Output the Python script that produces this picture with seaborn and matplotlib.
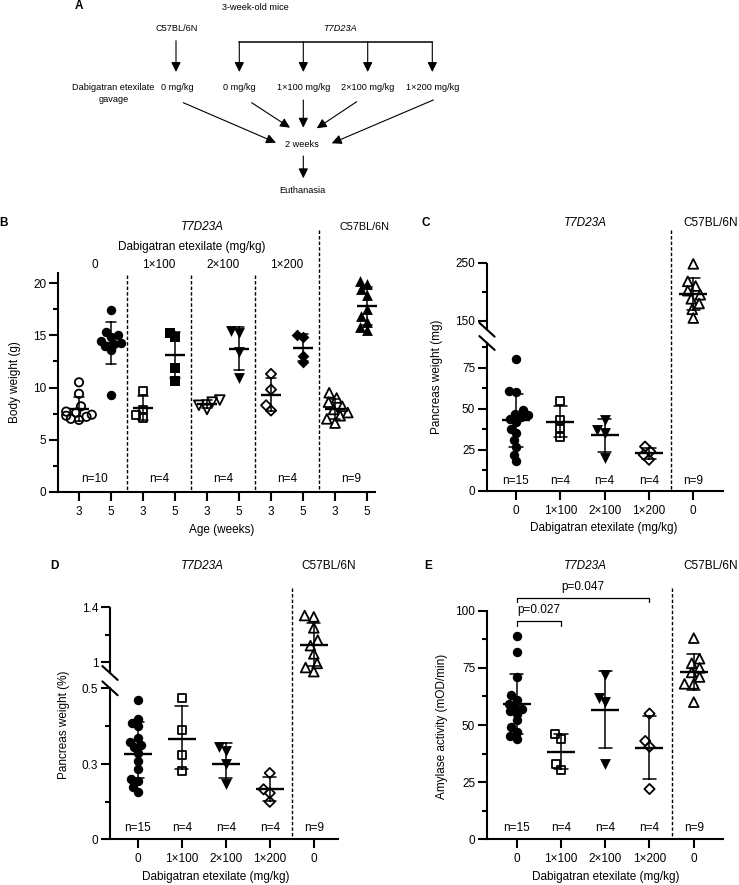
import matplotlib
matplotlib.use("Agg")
import matplotlib.pyplot as plt
import matplotlib.transforms as mtransforms
from matplotlib.lines import Line2D
from matplotlib.patches import FancyArrowPatch, Rectangle
import numpy as np
import seaborn as sns

# ---------------- data ----------------
doses = ["0", "1×100", "2×100", "1×200"]
strain_wt = "C57BL/6N"
strain_tg = "T7D23A"

# B: body weight (g), age 3 and 5 weeks
bw3_0 = [10.5, 9.4, 8.2, 7.6, 7.4, 7.2, 7.0, 7.3, 6.9, 7.7]
bw5_0 = [17.4, 15.3, 15.0, 14.8, 14.5, 14.3, 14.2, 14.0, 13.6, 9.3]
bw3_1x100 = [9.7, 7.9, 7.4, 7.1]
bw5_1x100 = [15.2, 14.8, 11.9, 10.6]
bw3_2x100 = [8.8, 8.6, 8.3, 7.9]
bw5_2x100 = [15.4, 15.2, 13.4, 10.9]
bw3_1x200 = [11.3, 9.8, 8.3, 7.8]
bw5_1x200 = [15.0, 14.8, 13.0, 12.4]
bw3_wt = [9.5, 9.0, 8.6, 8.2, 7.9, 7.6, 7.3, 7.0, 6.6]
bw5_wt = [20.2, 19.9, 19.4, 18.9, 17.5, 16.8, 16.3, 15.8, 15.5]
ages = ["3", "5"]

# C: pancreas weight (mg)
pw_0 = [80, 61, 60, 49, 47, 46, 45, 44, 42, 38, 35, 31, 27, 22, 18]
pw_1x100 = [55, 43, 38, 33]
pw_2x100 = [43, 37, 35, 20]
pw_1x200 = [27, 24, 22, 19]
pw_wt = [248, 218, 210, 202, 195, 188, 180, 170, 155]

# D: pancreas weight (% of body weight)
pp_0 = [0.47, 0.42, 0.41, 0.40, 0.37, 0.36, 0.35, 0.345, 0.33, 0.31, 0.28, 0.24, 0.235, 0.21, 0.19]
pp_1x100 = [0.475, 0.39, 0.325, 0.275]
pp_2x100 = [0.345, 0.335, 0.30, 0.22]
pp_1x200 = [0.265, 0.20, 0.185, 0.15]
pp_wt = [1.34, 1.33, 1.25, 1.16, 1.12, 1.06, 0.99, 0.96, 0.93]

# E: amylase activity (mOD/min)
am_0 = [89, 82, 71, 63, 61, 59, 58, 57, 56, 55, 52, 49, 47, 45, 44]
am_1x100 = [46, 44, 33, 30.5]
am_2x100 = [72, 62, 60, 33]
am_1x200 = [55, 43, 40.5, 22]
am_wt = [88, 79, 77, 75, 73, 71, 68, 68, 60]
p_tests = [("p=0.027", 0, 1), ("p=0.047", 0, 3)]

# ---------------- style ----------------
sns.set_style("ticks")
plt.rcParams["font.family"] = ["Liberation Sans", "DejaVu Sans"]
for k in ["text.color", "axes.labelcolor", "xtick.color", "ytick.color", "axes.edgecolor"]:
    plt.rcParams[k] = "black"
plt.rcParams["axes.linewidth"] = 1.5

W, H = 739, 885
FS = 8.5
FS_A = 6.6
FL = 8.5
MS = {"o": 6.8, "s": 6.5, "v": 7.8, "^": 7.8, "D": 6.0}
markers = ["o", "s", "v", "D", "^"]
swarm_sizes = []

fig = plt.figure(figsize=(W / 100, H / 100), dpi=100)


def fy(py):
    return 1 - py / H


def px_axes(left, top, right, bottom):
    return fig.add_axes([left / W, fy(bottom), (right - left) / W, (bottom - top) / H])


def ftext(x, y, s, size=FS, **kw):
    kw.setdefault("ha", "center")
    kw.setdefault("va", "center")
    return fig.text(x / W, fy(y), s, fontsize=size, **kw)


def farrow(x0, y0, x1, y1):
    fig.add_artist(FancyArrowPatch((x0 / W, fy(y0)), (x1 / W, fy(y1)), transform=fig.transFigure,
                                   arrowstyle="-|>,head_length=0.45,head_width=0.22",
                                   mutation_scale=13, lw=0.8, color="black",
                                   shrinkA=0, shrinkB=0))


def draw_group(ax, vals, cat, order, marker, filled, mean_w):
    size = MS[marker] - (0 if filled else 0.8)
    n_before = len(ax.collections)
    # lay the swarm out with smaller dots so the final dots overlap a little
    sns.swarmplot(x=[cat] * len(vals), y=vals, order=order, ax=ax, marker=marker,
                  size=size * 0.72,
                  color="black" if filled else "none", edgecolor="black",
                  linewidth=0 if filled else 1.3, warn_thresh=1)
    for c in ax.collections[n_before:]:
        swarm_sizes.append((c, size))
    sns.pointplot(x=[cat] * len(vals), y=vals, order=order, ax=ax, errorbar="sd",
                  capsize=0.3, color="black", markers="_", markersize=mean_w,
                  markeredgewidth=1.7, linestyles="none",
                  err_kws={"linewidth": 1.1, "zorder": 5}, zorder=5)


def vdash(ax, x, y0, y1):
    tr = mtransforms.blended_transform_factory(ax.transData, fig.transFigure)
    ax.plot([x, x], [fy(y0), fy(y1)], transform=tr, clip_on=False, color="black",
            lw=1.0, ls=(0, (2.5, 1.5)))


def bottom_text(ax, x, py, s):
    tr = mtransforms.blended_transform_factory(ax.transData, fig.transFigure)
    ax.text(x, fy(py), s, transform=tr, ha="center", va="center", fontsize=FS)


def finish(ax, xlim, xlabels, ymaj, ylabs, ymin, ylim):
    for c in ax.collections:
        c.set_clip_on(False)
    for ln in ax.lines:
        ln.set_clip_on(False)
    sns.despine(ax=ax)
    ax.set_xticks(range(len(xlabels)), xlabels)
    ax.set_xlim(*xlim)
    ax.set_yticks(ymaj, ylabs)
    ax.set_yticks(ymin, minor=True)
    ax.set_ylim(*ylim)
    ax.set_xlabel("")
    ax.set_ylabel("")
    ax.tick_params(axis="x", which="major", length=6.5, width=1.5, labelsize=FS, pad=3.5)
    ax.tick_params(axis="x", which="minor", bottom=False)
    ax.tick_params(axis="y", which="major", length=6.5, width=1.5, labelsize=FS, pad=2)
    ax.tick_params(axis="y", which="minor", length=3.5, width=1.5)


def broken_axis(ax, knots_v, knots_f, low_top, up_bottom, up_top):
    kv = np.array(knots_v, float)
    kf = np.array(knots_f, float)
    ax.set_yscale("function", functions=(lambda v: np.interp(v, kv, kf),
                                         lambda f: np.interp(f, kf, kv)))
    ax.spines["left"].set_bounds(0, low_top)
    tr = mtransforms.blended_transform_factory(ax.transAxes, ax.transData)
    ax.plot([0, 0], [up_bottom, up_top], transform=tr, clip_on=False, color="black",
            lw=1.5, solid_capstyle="butt")
    # "\" break marks at both ends of the gap
    for yv in (low_top, up_bottom):
        for dx, dy in ((-5.5, 5), (5.5, -5)):
            ax.annotate("", xy=(0, yv), xycoords=tr, xytext=(dx, dy),
                        textcoords="offset points", annotation_clip=False,
                        arrowprops=dict(arrowstyle="-", lw=1.5, color="black",
                                        shrinkA=0, shrinkB=0))


# ---------------- A: study design ----------------
ftext(79, 6, "A", size=FL, weight="bold")
ftext(255, 7, "3-week-old mice", size=FS_A)
ftext(176.7, 28.3, strain_wt, size=FS_A)
ftext(340, 28.3, strain_tg, size=FS_A, style="italic")
arm_x = [239.3, 303.3, 367.7, 432.3]
fig.add_artist(Line2D([arm_x[0] / W, arm_x[-1] / W], [fy(41.7), fy(41.7)],
                      transform=fig.transFigure, color="black", lw=1.1))
farrow(176, 40.7, 176, 72)
for x in arm_x:
    farrow(x, 41.7, x, 72)
ftext(112.8, 87.3, "Dabigatran etexilate", size=FS_A)
ftext(113.3, 99.3, "gavage", size=FS_A)
ftext(177.7, 87.3, "0 mg/kg", size=FS_A)
for x, d in zip(arm_x, doses):
    ftext(x, 87.3, f"{d} mg/kg", size=FS_A)
farrow(183.3, 102.7, 276, 142.7)
farrow(251.7, 102.7, 290, 127.7)
farrow(303.3, 100, 303.3, 127.7)
farrow(356.7, 101.7, 316.7, 128.3)
farrow(433.3, 100, 331.7, 143.3)
ftext(301.7, 145, "2 weeks", size=FS_A)
farrow(303.3, 156, 303.3, 178.3)
ftext(302.3, 190.7, "Euthanasia", size=FS_A)

# ---------------- B: body weight ----------------
axB = px_axes(58, 272.6, 375, 492)
b_groups = doses + [strain_wt]
b_order = [f"{g} {a}" for g in b_groups for a in ages]
b_wk3 = [bw3_0, bw3_1x100, bw3_2x100, bw3_1x200, bw3_wt]
b_wk5 = [bw5_0, bw5_1x100, bw5_2x100, bw5_1x200, bw5_wt]
for g, m, v3, v5 in zip(b_groups, markers, b_wk3, b_wk5):
    draw_group(axB, v3, f"{g} 3", b_order, m, False, 14.5)
    draw_group(axB, v5, f"{g} 5", b_order, m, True, 14.5)
finish(axB, (-0.656, 9.25), ages * len(b_groups), [0, 5, 10, 15, 20],
       ["0", "5", "10", "15", "20"], [2.5, 7.5, 12.5, 17.5], (0, 21))
for i in range(3):
    vdash(axB, 2 * i + 1.5, 275, 492)
vdash(axB, 7.5, 230, 492)
for i, (g, v3) in enumerate(zip(b_groups, b_wk3)):
    bottom_text(axB, 2 * i + 0.5, 479, f"n={len(v3)}")
    if i < len(doses):
        bottom_text(axB, 2 * i + 0.5, 265, g)
ftext(4, 223, "B", size=FL, weight="bold")
ftext(202, 226.7, strain_tg, style="italic")
ftext(365, 226.7, strain_wt, size=7.8)
ftext(191.7, 247, "Dabigatran etexilate (mg/kg)")
ftext(222, 530, "Age (weeks)")
ftext(15, 382, "Body weight (g)", rotation=90)

# ---------------- C, D, E: dose panels ----------------
cde_order = doses + ["wt 0"]
cde_labels = doses + ["0"]
cde_filled = [True, False, True, False, False]


def dose_panel(ax, series):
    for cat, m, f, vals in zip(cde_order, markers, cde_filled, series):
        draw_group(ax, vals, cat, cde_order, m, f, 19.5)


# C
axC = px_axes(487, 262.7, 723, 491)
c_series = [pw_0, pw_1x100, pw_2x100, pw_1x200, pw_wt]
dose_panel(axC, c_series)
broken_axis(axC, [-100, 0, 90, 135, 250, 400], [-164.4, 0, 148, 161.3, 228.3, 315.75], 90, 135, 250)
finish(axC, (-0.655, 4.67), cde_labels, [0, 25, 50, 75, 150, 250],
       ["0", "25", "50", "75", "150", "250"], [12.5, 37.5, 62.5, 87.5, 200], (0, 250))
vdash(axC, 3.5, 230, 491)
for i, vals in enumerate(c_series):
    bottom_text(axC, i, 481, f"n={len(vals)}")
ftext(426, 223, "C", size=FL, weight="bold")
ftext(585, 223, strain_tg, style="italic")
ftext(711, 223, strain_wt)
ftext(604, 528, "Dabigatran etexilate (mg/kg)")
ftext(437, 377, "Pancreas weight (mg)", rotation=90)

# D
axD = px_axes(110, 607.3, 338, 839.3)
d_series = [pp_0, pp_1x100, pp_2x100, pp_1x200, pp_wt]
dose_panel(axD, d_series)
broken_axis(axD, [-1, 0, 0.3, 0.5, 0.92, 1.4, 3], [-250, 0, 75, 151, 166.3, 232, 451], 0.5, 0.92, 1.4)
finish(axD, (-0.63, 4.55), cde_labels, [0, 0.3, 0.5, 1.0, 1.4],
       ["0", "0.3", "0.5", "1", "1.4"], [0.15, 0.4, 1.2], (0, 1.4))
vdash(axD, 3.5, 588, 839.3)
for i, vals in enumerate(d_series):
    bottom_text(axD, i, 827.7, f"n={len(vals)}")
ftext(54, 566, "D", size=FL, weight="bold")
ftext(202, 566, strain_tg, style="italic")
ftext(329, 566, strain_wt)
ftext(216, 877, "Dabigatran etexilate (mg/kg)")
ftext(64, 725, "Pancreas weight (%)", rotation=90)

# E
axE = px_axes(487, 610.7, 723, 839.3)
e_series = [am_0, am_1x100, am_2x100, am_1x200, am_wt]
dose_panel(axE, e_series)
finish(axE, (-0.67, 4.66), cde_labels, [0, 25, 50, 75, 100],
       ["0", "25", "50", "75", "100"], [12.5, 37.5, 62.5, 87.5], (0, 100))
vdash(axE, 3.5, 588, 839.3)
for i, vals in enumerate(e_series):
    bottom_text(axE, i, 827.7, f"n={len(vals)}")
for (lab, a, b), yb in zip(p_tests, [95.5, 105.7]):
    axE.plot([a, a, b, b], [yb - 2.1, yb, yb, yb - 2.1], color="black", lw=0.9, clip_on=False)
    axE.text((a + b) / 2, yb + 4.7, lab, ha="center", va="center", fontsize=FS)
ftext(428, 566, "E", size=FL, weight="bold")
ftext(585, 566, strain_tg, style="italic")
ftext(711, 566, strain_wt)
ftext(606, 877, "Dabigatran etexilate (mg/kg)")
ftext(442, 726, "Amylase activity (mOD/min)", rotation=90)

# compute the swarm layout once, then freeze it and enlarge the dots
fig.canvas.draw()
for coll, size in swarm_sizes:
    if "draw" in coll.__dict__:
        del coll.draw
    coll.set_sizes([size ** 2])

# blank the bottom-left corner (a stray rendering speck appears there)
fig.add_artist(Rectangle((0, 0), 16 / W, 14 / H, transform=fig.transFigure,
                         facecolor="white", edgecolor="none", zorder=1000))

fig.savefig("out.png", dpi=100)
